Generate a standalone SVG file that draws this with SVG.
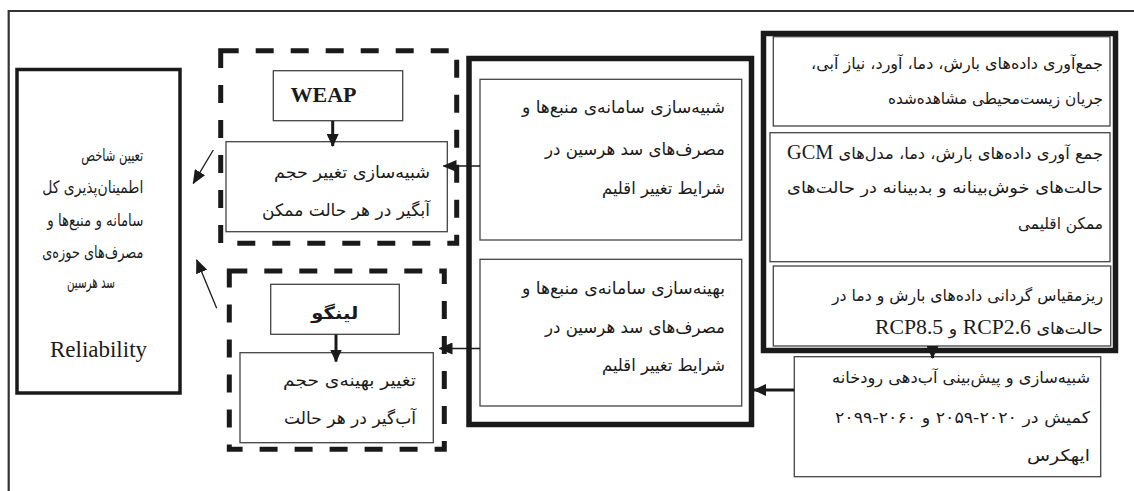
<svg xmlns="http://www.w3.org/2000/svg" width="1134" height="491" viewBox="0 0 1134 491">
<style>
.frame{fill:none;stroke:#333;stroke-width:2.2}
.thick{fill:#fff;stroke:#1a1a1a;stroke-width:5.5}
.thin{fill:#fff;stroke:#444;stroke-width:1.3}
.dash{fill:none;stroke:#1a1a1a;stroke-width:5;stroke-dasharray:18 17}
.fa{font-family:"DejaVu Sans",sans-serif;font-size:17px;fill:#1a1a1a;direction:rtl;unicode-bidi:embed;text-anchor:start}
.fr{font-size:16px}
.lat{font-family:"Liberation Serif","Times New Roman",serif;font-size:20px}
.en{font-family:"Liberation Serif","Times New Roman",serif;fill:#1a1a1a}
.thinline{fill:none;stroke:#1a1a1a;stroke-width:1.3}
.thickline{fill:none;stroke:#1a1a1a;stroke-width:3}
</style>
<defs>
<marker id="ah" markerUnits="userSpaceOnUse" markerWidth="14" markerHeight="12" viewBox="0 0 14 12" refX="13" refY="6" orient="auto">
<path d="M0,0 L14,6 L0,12 Z" fill="#1a1a1a"/>
</marker>
<marker id="ahb" markerUnits="userSpaceOnUse" markerWidth="13" markerHeight="12" viewBox="0 0 13 12" refX="12" refY="6" orient="auto">
<path d="M0,0 L13,6 L0,12 Z" fill="#1a1a1a"/>
</marker>
</defs>
<rect width="1134" height="491" fill="#fff"/>
<path class="frame" d="M1134,11 H8.7 V491"/>

<g id="reliability">
<rect x="17" y="69.5" width="163" height="323.5" fill="#fff" stroke="#1a1a1a" stroke-width="3.5"/>
<text class="fa" x="143.3" y="161" textLength="62" lengthAdjust="spacingAndGlyphs">تعیین شاخص</text>
<text class="fa" x="143.3" y="193" textLength="101" lengthAdjust="spacingAndGlyphs">اطمینان‌پذیری کل</text>
<text class="fa" x="143.3" y="226" textLength="96" lengthAdjust="spacingAndGlyphs">سامانه و منبع‌ها و</text>
<text class="fa" x="143.3" y="258" textLength="101" lengthAdjust="spacingAndGlyphs">مصرف‌های حوزه‌ی</text>
<text class="fa" x="115" y="288" textLength="48" lengthAdjust="spacingAndGlyphs">سد هرسین</text>
<text class="en" x="98.5" y="357" font-size="23" text-anchor="middle">Reliability</text>
</g>

<g id="weap-group">
<rect class="dash" x="220.7" y="50.7" width="236" height="192.6"/>
</g>
<g id="weap">
<rect class="thin" x="273.3" y="70.7" width="129.4" height="50"/>
<text class="en" x="323.5" y="101.5" font-weight="bold" font-size="22" text-anchor="middle">WEAP</text>
</g>
<g id="weap-sim">
<rect class="thin" x="226" y="141.7" width="221.3" height="90"/>
<text class="fa" x="430" y="177.7" textLength="156" lengthAdjust="spacingAndGlyphs">شبیه‌سازی تغییر حجم</text>
<text class="fa" x="430" y="216" textLength="168" lengthAdjust="spacingAndGlyphs">آبگیر در هر حالت ممکن</text>
</g>

<g id="lingo-group">
<rect class="dash" x="229.3" y="271" width="215" height="178.3"/>
</g>
<g id="lingo">
<rect class="thin" x="270.7" y="284.3" width="128.6" height="50"/>
<text class="fa" x="358.3" y="319" font-weight="bold" font-size="18" textLength="47" lengthAdjust="spacingAndGlyphs">لینگو</text>
</g>
<g id="lingo-opt">
<rect class="thin" x="240" y="352.7" width="193.3" height="90"/>
<text class="fa" x="416" y="386" textLength="133" lengthAdjust="spacingAndGlyphs">تغییر بهینه‌ی حجم</text>
<text class="fa" x="416" y="424.3" textLength="132" lengthAdjust="spacingAndGlyphs">آب‌گیر در هر حالت</text>
</g>

<g id="middle">
<rect class="thick" x="469" y="58.5" width="282.5" height="366" stroke-width="5"/>
</g>
<g id="sim-system">
<rect class="thin" x="480" y="79.3" width="261.7" height="160.7"/>
<text class="fa" x="725" y="112.7" textLength="203" lengthAdjust="spacingAndGlyphs">شبیه‌سازی سامانه‌ی منبع‌ها و</text>
<text class="fa" x="725" y="155" textLength="180" lengthAdjust="spacingAndGlyphs">مصرف‌های سد هرسین در</text>
<text class="fa" x="725" y="194" textLength="123" lengthAdjust="spacingAndGlyphs">شرایط تغییر اقلیم</text>
</g>
<g id="opt-system">
<rect class="thin" x="480" y="259.3" width="261.7" height="146.7"/>
<text class="fa" x="725" y="294" textLength="203" lengthAdjust="spacingAndGlyphs">بهینه‌سازی سامانه‌ی منبع‌ها و</text>
<text class="fa" x="725" y="333" textLength="180" lengthAdjust="spacingAndGlyphs">مصرف‌های سد هرسین در</text>
<text class="fa" x="725" y="371" textLength="123" lengthAdjust="spacingAndGlyphs">شرایط تغییر اقلیم</text>
</g>

<g id="right">
<rect class="thick" x="763.5" y="33.5" width="352" height="317"/>
</g>
<g id="observed">
<rect class="thin" x="773.3" y="36.7" width="336.7" height="89.3"/>
<text class="fa fr" x="1103" y="69" textLength="292" lengthAdjust="spacingAndGlyphs">جمع‌آوری داده‌های بارش، دما، آورد، نیاز آبی،</text>
<text class="fa fr" x="1103" y="104" textLength="215" lengthAdjust="spacingAndGlyphs">جریان زیست‌محیطی مشاهده‌شده</text>
</g>
<g id="gcm">
<rect class="thin" x="770" y="132.7" width="340" height="129"/>
<text class="fa fr" x="1103" y="159" textLength="316" lengthAdjust="spacingAndGlyphs">جمع آوری داده‌های بارش، دما، مدل‌های <tspan class="lat">GCM</tspan></text>
<text class="fa fr" x="1103" y="192.5" textLength="316" lengthAdjust="spacingAndGlyphs">حالت‌های خوش‌بینانه و بدبینانه در حالت‌های</text>
<text class="fa fr" x="1103" y="229" textLength="85" lengthAdjust="spacingAndGlyphs">ممکن اقلیمی</text>
</g>
<g id="downscale">
<rect class="thin" x="773.3" y="266" width="337.4" height="80"/>
<text class="fa fr" x="1103" y="300.5" textLength="271" lengthAdjust="spacingAndGlyphs">ریزمقیاس گردانی داده‌های بارش و دما در</text>
<text class="fa fr" x="1103" y="334" textLength="228" lengthAdjust="spacingAndGlyphs">حالت‌های <tspan class="lat">RCP2.6</tspan> و <tspan class="lat">RCP8.5</tspan></text>
</g>
<g id="ihacres">
<rect class="thin" x="794.3" y="356.7" width="306.4" height="120"/>
<text class="fa fr" x="1090" y="382.5" textLength="258" lengthAdjust="spacingAndGlyphs">شبیه‌سازی و پیش‌بینی آب‌دهی رودخانه</text>
<text class="fa fr" x="1090" y="422.5" textLength="255" lengthAdjust="spacingAndGlyphs">کمیش در ۲۰۲۰-۲۰۵۹ و ۲۰۶۰-۲۰۹۹</text>
<text class="fa fr" x="1090" y="461" textLength="63" lengthAdjust="spacingAndGlyphs">ایهکرس</text>
</g>

<g id="connectors">
<line class="thickline" x1="932.5" y1="349" x2="932.5" y2="358" marker-end="url(#ahb)"/>
<line class="thickline" x1="794.3" y1="390" x2="754" y2="390" marker-end="url(#ahb)"/>
<line class="thinline" x1="480" y1="166" x2="443.5" y2="166" marker-end="url(#ah)"/>
<line class="thinline" x1="480" y1="348.5" x2="439.5" y2="348.5" marker-end="url(#ah)"/>
<line class="thickline" x1="332.7" y1="121" x2="332.7" y2="146" marker-end="url(#ahb)"/>
<line class="thickline" x1="336" y1="334.5" x2="336" y2="361.5" marker-end="url(#ahb)"/>
<line class="thinline" x1="213.3" y1="150" x2="193.3" y2="183.3" marker-end="url(#ah)"/>
<line class="thinline" x1="216.7" y1="308.3" x2="196.7" y2="260" marker-end="url(#ah)"/>
</g>
</svg>
